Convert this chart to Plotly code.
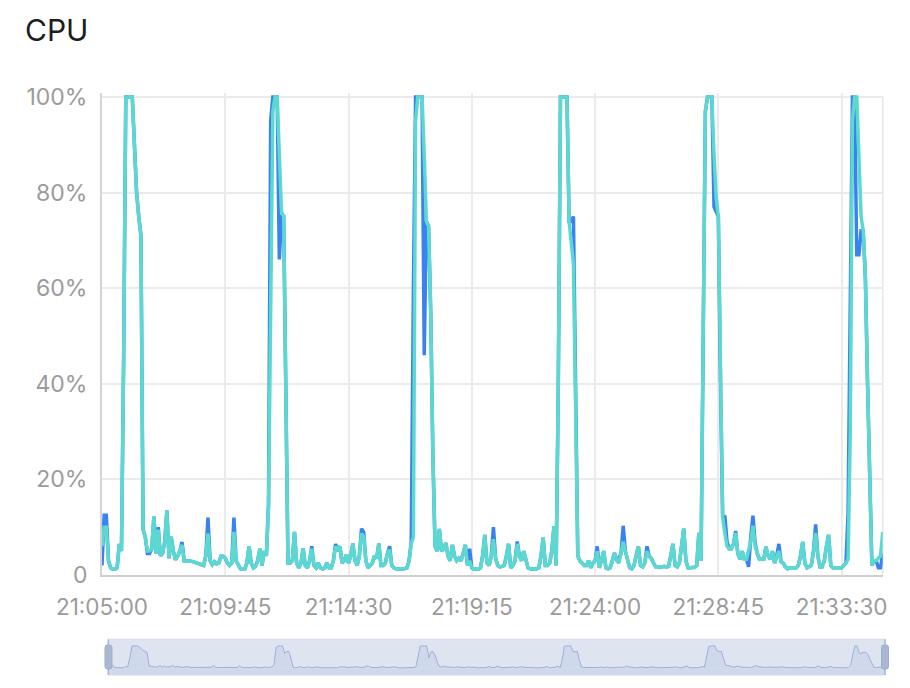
import pandas as pd
import plotly.graph_objects as go

# ---------------- data (5 s samples from 21:05:00) ----------------
tick_labels = ["21:05:00", "21:09:45", "21:14:30", "21:19:15", "21:24:00", "21:28:45", "21:33:30"]
y_tick_values = [0, 20, 40, 60, 80, 100]
y_tick_labels = ["0", "20%", "40%", "60%", "80%", "100%"]

blue_vals = [
    2, 12.5, 12.5, 3, 1.5, 1.2, 1.2, 1.5, 6.5, 5,
    45, 100, 100, 100, 100, 90, 80, 75, 71, 9.5,
    8, 4.5, 4.5, 5.5, 12.2, 4.5, 10, 4, 4.5, 7,
    13.5, 3.5, 8, 5, 3.2, 4, 5, 6.9, 3, 3,
    3, 2.9, 2.8, 2.6, 2.5, 2.3, 2.2, 2, 4, 12,
    3, 2.2, 2.8, 2.3, 2.5, 3.9, 3.9, 3.5, 2.5, 2,
    2.5, 12, 3, 2, 1.3, 1.2, 1.2, 2.5, 6, 2.5,
    1.5, 1.8, 3, 5.5, 2, 5, 4, 15, 95, 100,
    100, 100, 66, 75, 75, 35, 2.5, 2.5, 3, 9,
    2.5, 1.5, 2.5, 5.6, 2, 1.5, 3, 6, 2, 1.5,
    2.5, 1.5, 1.3, 1.5, 2.5, 1.5, 1.5, 3, 6.5, 5,
    6, 2.5, 3, 4.3, 2.5, 4, 6.6, 3, 2, 4,
    9.7, 9, 3, 1.5, 2, 2.5, 4, 3.5, 6.6, 2,
    2, 2.5, 4.5, 6, 2, 1.5, 1.3, 1.2, 1.2, 1.2,
    1.3, 1.5, 3, 7, 60, 100, 100, 100, 100, 46,
    74, 73, 55, 25, 6, 5, 9.5, 5, 5.5, 6.7,
    4, 3, 6.3, 4, 3, 3.5, 3, 4.5, 6.3, 2,
    5.5, 1.5, 1.2, 1.2, 1.2, 1.5, 4, 8.4, 2.5, 2,
    4, 10, 3.5, 2, 1.7, 1.8, 2, 4, 6.5, 1.5,
    2, 3, 7, 4, 3, 5, 3, 1.5, 1.3, 1.2,
    1.2, 1.3, 1.5, 4, 7.8, 2, 2, 2.5, 5, 10.2,
    2, 40, 100, 100, 100, 100, 74, 74, 75, 35,
    4, 3, 2.5, 2, 2, 3, 1.5, 2.5, 3, 6,
    1.5, 3, 5, 1.5, 1.3, 1.5, 3, 4.6, 3, 3.5,
    4.5, 10.3, 5, 3, 1.5, 1.3, 2, 4, 6, 2,
    1.7, 2.5, 6, 4, 3.5, 2.5, 1.7, 1.7, 1.6, 1.7,
    1.8, 1.7, 1.8, 4, 6.5, 2, 1.7, 2.5, 6, 9.7,
    3, 1.5, 1.5, 1.5, 1.6, 2, 8.8, 3, 45, 97,
    100, 100, 100, 77, 76, 75, 40, 12, 12.4, 7,
    5.5, 5.5, 6.5, 9.2, 4.5, 3.3, 5, 3.3, 3.3, 1.7,
    8, 12.4, 6.7, 4.5, 3.3, 3.3, 3.3, 5.9, 4, 3.3,
    5, 2.5, 4, 6.5, 2.8, 2.5, 1.7, 1.3, 1.5, 1.5,
    1.5, 1.5, 2, 4, 6.9, 2.5, 1.5, 1.7, 2, 5,
    10.6, 4, 1.7, 1.7, 3, 6, 8.4, 2, 1.5, 1.5,
    1.5, 1.5, 1.5, 2, 2.5, 13, 60, 100, 100, 67,
    67, 72, 72, 62, 40, 18, 2, 3, 3, 1.5,
    1.5, 4.5,
]

cyan_vals = [
    6, 10, 10, 3, 1.5, 1.2, 1.2, 1.5, 6.5, 5,
    45, 100, 100, 100, 100, 90, 80, 75, 71, 9.5,
    8, 5, 5, 5.5, 12.2, 4.5, 9.5, 4, 4.5, 7,
    13.5, 3.5, 8, 5, 3.2, 4, 5, 6.3, 3, 3,
    3, 2.9, 2.8, 2.6, 2.5, 2.3, 2.2, 2, 4, 8.7,
    3, 2.2, 2.8, 2.3, 2.5, 3.9, 3.9, 3.5, 2.5, 2,
    2.5, 9, 3, 2, 1.3, 1.2, 1.2, 2.5, 6, 2.5,
    1.5, 1.8, 3, 5.5, 2, 5, 4, 14, 50, 97,
    100, 100, 88, 76, 75, 35, 2.5, 2.5, 3, 9,
    2.5, 1.5, 2.5, 5.6, 2, 1.5, 3, 5.5, 2, 1.5,
    2.5, 1.5, 1.3, 1.5, 2.5, 1.5, 1.5, 3, 6, 5,
    6, 2.5, 3, 4.3, 2.5, 4, 6.6, 3, 2, 4,
    8.7, 8, 3, 1.5, 2, 2.5, 4, 3.5, 6.6, 2,
    2, 2.5, 4.5, 5.3, 2, 1.5, 1.3, 1.2, 1.2, 1.2,
    1.3, 1.5, 3, 6.5, 8, 95, 100, 100, 100, 88,
    74, 73, 55, 25, 6, 5, 9.7, 5, 5.5, 6.7,
    4, 3, 6.3, 4, 3, 3.5, 3, 4.5, 6.3, 2,
    3, 1.5, 1.2, 1.2, 1.2, 1.5, 4, 8.4, 2.5, 2,
    4, 7.5, 3.5, 2, 1.7, 1.8, 2, 4, 6.5, 1.5,
    2, 3, 6.5, 4, 3, 5, 3, 1.5, 1.3, 1.2,
    1.2, 1.3, 1.5, 4, 7.8, 2, 2, 2.5, 5, 10.2,
    2, 40, 100, 100, 100, 100, 74, 70, 65, 35,
    4, 3, 2.5, 2, 2, 3, 1.5, 2.5, 3, 5,
    1.5, 3, 5, 1.5, 1.3, 1.5, 3, 4.6, 3, 2.5,
    4.5, 7, 5, 3, 1.5, 1.3, 2, 4, 6, 2,
    1.7, 2.5, 5, 4, 3.5, 2.5, 1.7, 1.7, 1.6, 1.7,
    1.8, 1.7, 1.8, 4, 6.5, 2, 1.7, 2.5, 6, 9.7,
    3, 1.5, 1.5, 1.5, 1.6, 2, 8.8, 3, 45, 97,
    100, 100, 100, 88, 79, 75, 40, 12, 8.8, 6,
    5.5, 5.5, 6.5, 8.8, 4.5, 3.3, 5, 3.3, 3.3, 5,
    7, 10.3, 6, 4.5, 3.3, 3.3, 3.3, 5.9, 4, 3.3,
    5, 2.5, 4, 5, 2.8, 2.5, 1.7, 1.3, 1.5, 1.5,
    1.5, 1.5, 2, 4, 6.9, 2.5, 1.5, 1.7, 2, 5,
    8.8, 4, 1.7, 1.7, 3, 6, 8.4, 2, 1.5, 1.5,
    1.5, 1.5, 1.5, 2, 2.5, 3.3, 30, 95, 100, 100,
    85, 75, 72, 62, 40, 18, 2, 3, 3, 3.5,
    4, 9,
]

day = "2024-01-01"
times = pd.date_range(pd.Timestamp(f"{day} {tick_labels[0]}"), periods=len(cyan_vals), freq="5s")
tick_vals = [pd.Timestamp(f"{day} {t}") for t in tick_labels]

# ---------------- layout geometry ----------------
W, H = 910, 688
ML, MR, MT, MB = 102, 20, 93, 13
PW, PH = W - ML - MR, H - MT - MB
Y_TOP_PX, Y_ZERO_PX = 97, 575       # pixel rows of 100 % and 0 %
PX_PER_UNIT = (Y_ZERO_PX - Y_TOP_PX) / 100.0
Y_MAX = 100 + (Y_TOP_PX - MT) / PX_PER_UNIT   # head-room so 100 % peaks are not clipped


def px_x(px):
    return (px - ML) / PW


def px_y(py):
    return (H - MB - py) / PH


BLUE = "#3a82f2"
CYAN = "#5bd9d1"
GRID = "#ebebeb"
TICK = "#9b9b9b"
FONT = "Inter, 'Noto Sans', sans-serif"

fig = go.Figure()
fig.add_trace(go.Scatter(x=times, y=blue_vals, mode="lines", line=dict(color=BLUE, width=3.5),
                         xaxis="x", yaxis="y", hoverinfo="skip"))
fig.add_trace(go.Scatter(x=times, y=cyan_vals, mode="lines", line=dict(color=CYAN, width=3.5),
                         xaxis="x", yaxis="y", hoverinfo="skip"))
# data-zoom preview
fig.add_trace(go.Scatter(x=times, y=blue_vals, mode="lines", line=dict(color="#9cb0da", width=1),
                         fill="tozeroy", fillcolor="#d0d9ec", xaxis="x2", yaxis="y2", hoverinfo="skip"))


def rounded_rect(x0, y0, x1, y1, r):
    rx, ry = r / PW, r / PH
    a0, a1 = px_x(x0), px_x(x1)
    b0, b1 = px_y(y1), px_y(y0)
    return (f"M {a0 + rx},{b0} L {a1 - rx},{b0} Q {a1},{b0} {a1},{b0 + ry} "
            f"L {a1},{b1 - ry} Q {a1},{b1} {a1 - rx},{b1} L {a0 + rx},{b1} "
            f"Q {a0},{b1} {a0},{b1 - ry} L {a0},{b0 + ry} Q {a0},{b0} {a0 + rx},{b0} Z")


shapes = [
    # right border of grid
    dict(type="line", xref="x domain", yref="y", x0=1, x1=1, y0=0, y1=100,
         line=dict(color="#e6e6e6", width=1.5), layer="below"),
    # slider background
    dict(type="rect", xref="x2 domain", yref="y2 domain", x0=0, x1=1, y0=0, y1=1,
         fillcolor="#dfe5f0", line=dict(color="#d3dbea", width=1), layer="below"),
    dict(type="rect", xref="x2 domain", yref="y2", x0=0, x1=1, y0=-31, y1=0,
         fillcolor="#d0d9ec", line=dict(width=0), layer="below"),
    # handle lines
    dict(type="line", xref="paper", yref="paper", x0=px_x(108.3), x1=px_x(108.3),
         y0=px_y(675), y1=px_y(639.3), line=dict(color="#a9b7d1", width=1.5)),
    dict(type="line", xref="paper", yref="paper", x0=px_x(885), x1=px_x(885),
         y0=px_y(675), y1=px_y(639.3), line=dict(color="#a9b7d1", width=1.5)),
    # handles
    dict(type="path", xref="paper", yref="paper", path=rounded_rect(105, 645, 112, 669, 2.5),
         fillcolor="#aab8d2", line=dict(color="#9dadca", width=1)),
    dict(type="path", xref="paper", yref="paper", path=rounded_rect(881.5, 645, 888.5, 669, 2.5),
         fillcolor="#aab8d2", line=dict(color="#9dadca", width=1)),
]

fig.update_layout(
    width=W, height=H,
    margin=dict(l=ML, r=MR, t=MT, b=MB, pad=0, autoexpand=False),
    paper_bgcolor="white", plot_bgcolor="white",
    showlegend=False,
    font=dict(family=FONT),
    title=dict(text="CPU", x=25 / W, xref="container", xanchor="left",
               y=1 - 30 / H, yref="container", yanchor="middle",
               font=dict(size=30, color="#1d1d1d", family=FONT)),
    xaxis=dict(domain=[0, px_x(882.7)], anchor="y", type="date", automargin=False,
               range=[times[0], times[-1]],
               tickmode="array", tickvals=tick_vals, ticktext=tick_labels,
               showgrid=True, gridcolor=GRID, gridwidth=1.5,
               showline=True, linecolor="#cfcfcf", linewidth=2,
               ticks="", ticklabelstandoff=11,
               tickfont=dict(size=22.5, color=TICK, family=FONT), zeroline=False),
    yaxis=dict(domain=[px_y(Y_ZERO_PX), 1], anchor="x", range=[0, Y_MAX], automargin=False,
               tickmode="array", tickvals=y_tick_values, ticktext=y_tick_labels,
               showgrid=True, gridcolor=GRID, gridwidth=1.5,
               showline=True, linecolor="#d3d3d3", linewidth=2,
               ticks="", ticklabelstandoff=8, zeroline=False,
               tickfont=dict(size=23, color=TICK, family=FONT)),
    xaxis2=dict(domain=[px_x(108.3), px_x(885)], anchor="y2", type="date",
                range=[times[0], times[-1]], visible=False),
    yaxis2=dict(domain=[0, px_y(639.3)], anchor="x2", range=[-31, 130], visible=False),
    shapes=shapes,
)

fig.write_html("out.html", config={"displayModeBar": False},
               post_script="document.body.style.margin='0px';")
